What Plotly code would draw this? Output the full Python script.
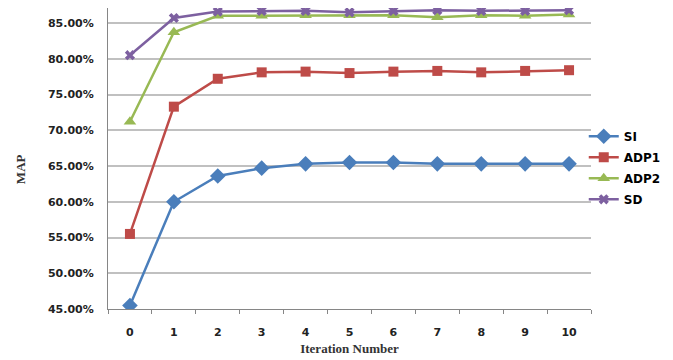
import plotly.graph_objects as go

iterations = [0, 1, 2, 3, 4, 5, 6, 7, 8, 9, 10]
si = [45.5, 60.0, 63.6, 64.7, 65.3, 65.5, 65.5, 65.3, 65.3, 65.3, 65.3]
adp1 = [55.5, 73.3, 77.2, 78.1, 78.2, 78.0, 78.2, 78.3, 78.1, 78.3, 78.4]
adp2 = [71.2, 83.7, 86.0, 86.0, 86.1, 86.1, 86.1, 85.8, 86.1, 86.0, 86.2]
sd = [80.5, 85.7, 86.6, 86.7, 86.7, 86.5, 86.7, 86.8, 86.7, 86.7, 86.8]

series = [
    ("SI", si, "#4A7EBB", "diamond", 12),
    ("ADP1", adp1, "#BE4B48", "square", 10),
    ("ADP2", adp2, "#98B954", "triangle-up", 11),
    ("SD", sd, "#7D60A0", "x", 9),
]

fig = go.Figure()
for name, vals, color, sym, size in series:
    fig.add_trace(go.Scatter(
        x=iterations, y=[v / 100 for v in vals], name=name, legendgroup=name,
        mode="lines+markers",
        line=dict(color=color, width=2.5),
        marker=dict(symbol=sym, size=size, color=color, line=dict(width=0)),
    ))

fig.add_annotation(
    text="MAP", textangle=-90, xref="paper", yref="paper",
    x=-0.182, y=0.465, showarrow=False, xanchor="center", yanchor="middle",
    font=dict(family="Liberation Serif", size=13, color="#333333", weight="bold"),
)

fig.update_layout(
    width=665, height=352,
    margin=dict(l=100, r=82, t=0, b=51),
    paper_bgcolor="white", plot_bgcolor="white",
    showlegend=True,
    legend=dict(x=0.985, y=0.622, xanchor="left", yanchor="top",
                font=dict(family="DejaVu Sans", size=12, color="#000000", weight="bold"),
                tracegroupgap=2, itemwidth=30, bgcolor="rgba(0,0,0,0)"),
    xaxis=dict(
        type="category", range=[-0.5, 10.5],
        tickmode="array", tickvals=iterations, ticktext=[str(i) for i in iterations],
        tickson="boundaries", ticks="outside", ticklen=4, tickcolor="#868686",
        ticklabelstandoff=13,
        showline=True, linecolor="#868686", linewidth=1,
        showgrid=False,
        tickfont=dict(family="DejaVu Sans", size=11, color="#222222", weight="bold"),
        title=dict(text="Iteration Number", standoff=5,
                   font=dict(family="Liberation Serif", size=13, color="#333333", weight="bold")),
    ),
    yaxis=dict(
        range=[0.45, 0.871],
        tickvals=[0.45, 0.50, 0.55, 0.60, 0.65, 0.70, 0.75, 0.80, 0.85],
        tickformat=".2%",
        ticklabelstandoff=11,
        showline=True, linecolor="#868686", linewidth=1,
        showgrid=True, gridcolor="#C0C0C0", gridwidth=1.5,
        ticks="", zeroline=False,
        tickfont=dict(family="DejaVu Sans", size=11, color="#222222", weight="bold"),
    ),
)

fig.write_html("out.html")
